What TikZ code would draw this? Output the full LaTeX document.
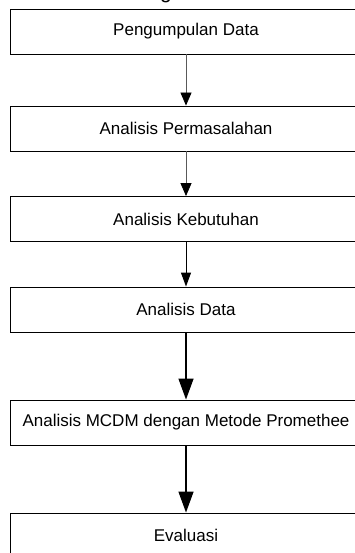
\documentclass[tikz,border=0pt]{standalone}
\usepackage{fontspec}
\setmainfont{Liberation Sans}
\usetikzlibrary{arrows.meta}
\begin{document}
\begin{tikzpicture}[x=1pt,y=-1pt,
  stepbox/.style={draw=black,line width=0.9pt,minimum width=352pt,minimum height=45pt,inner sep=0pt,font=\fontsize{17}{20}\selectfont},
  thinarrow/.style={draw=black!65,line width=0.8pt,-{Triangle[length=13pt,width=11pt,color=black]}},
  midarrow/.style={draw=black,line width=1pt,-{Triangle[length=14pt,width=10pt]}},
  bigarrow/.style={draw=black,line width=1.4pt,-{Triangle[length=21pt,width=15pt]}}]
\useasboundingbox (0,0) rectangle (354,553);
\fill[white] (0,0) rectangle (354,553);
\node[anchor=base,font=\fontsize{21}{24}\selectfont,inner sep=0pt] (title) at (166,-1.8) {g};
\node[stepbox] (n1) at (186,31.5) {Pengumpulan Data};
\node[stepbox] (n2) at (186,128.5) {Analisis Permasalahan};
\node[stepbox] (n3) at (186,219) {Analisis Kebutuhan};
\node[stepbox] (n4) at (186,309.5) {Analisis Data};
\node[stepbox] (n5) at (186,422.5) {Analisis MCDM dengan Metode Promethee};
\node[stepbox] (n6) at (186,535.5) {Evaluasi};
\draw[thinarrow] (n1) -- (n2);
\draw[thinarrow] (n2) -- (n3);
\draw[midarrow] (n3) -- (n4);
\draw[bigarrow] (n4) -- (n5);
\draw[bigarrow] (n5) -- (n6);
\end{tikzpicture}
\end{document}
